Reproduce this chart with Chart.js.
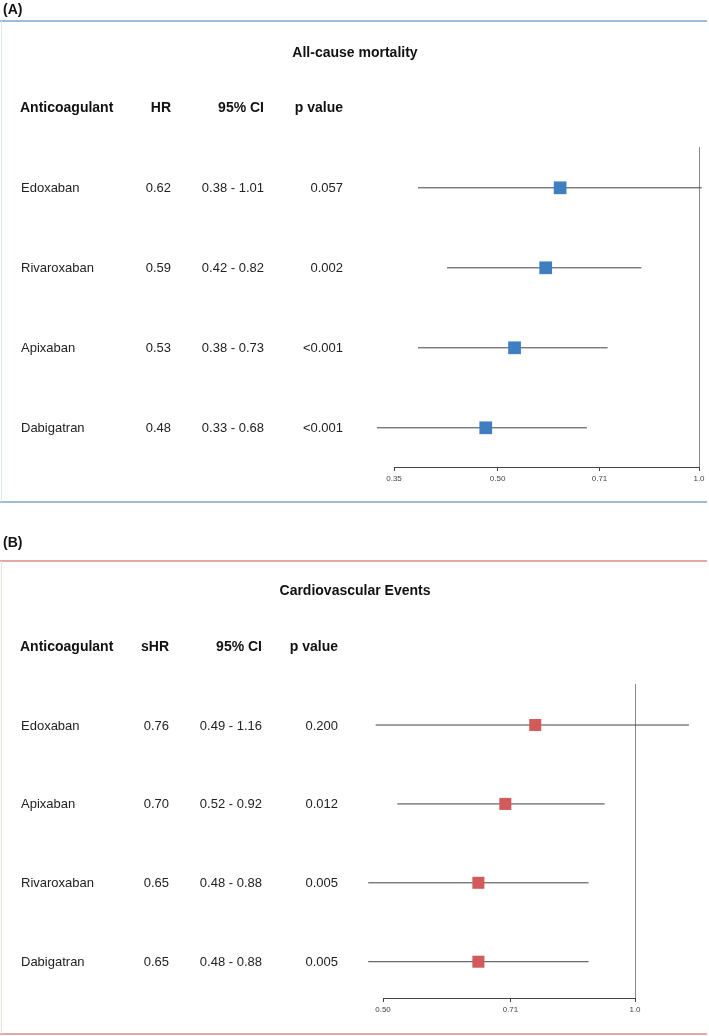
<!DOCTYPE html>
<html>
<head>
<meta charset="utf-8">
<script src="https://cdn.jsdelivr.net/npm/chart.js@4/dist/chart.umd.min.js"></script>
<style>
  html, body { margin: 0; padding: 0; background: #ffffff; }
  canvas { display: block; }
</style>
</head>
<body>
<canvas id="chartA" width="709" height="515"></canvas>
<canvas id="chartB" width="709" height="521"></canvas>
<script>
// ---------- Panel A data ----------
const drugsA = ['Edoxaban', 'Rivaroxaban', 'Apixaban', 'Dabigatran'];
const hrA = [0.62, 0.59, 0.53, 0.48];
const lowA = [0.38, 0.42, 0.38, 0.33];
const highA = [1.01, 0.82, 0.73, 0.68];
const pA = ['0.057', '0.002', '<0.001', '<0.001'];
const tickValsA = [0.35, 0.50, 0.71, 1.0];
const tickLabelsA = ['0.35', '0.50', '0.71', '1.0'];

// ---------- Panel B data ----------
const drugsB = ['Edoxaban', 'Apixaban', 'Rivaroxaban', 'Dabigatran'];
const hrB = [0.76, 0.70, 0.65, 0.65];
const lowB = [0.49, 0.52, 0.48, 0.48];
const highB = [1.16, 0.92, 0.88, 0.88];
const pB = ['0.200', '0.012', '0.005', '0.005'];
const tickValsB = [0.50, 0.71, 1.0];
const tickLabelsB = ['0.50', '0.71', '1.0'];

const FONT = '"Liberation Sans", Arial, Helvetica, sans-serif';

const panelPlugin = {
  id: 'panel',
  beforeDatasetsDraw(chart, args, o) {
    const ctx = chart.ctx, x = chart.scales.x, a = chart.chartArea;
    // reference line at HR = 1
    const px = Math.round(x.getPixelForValue(1)) + 0.5;
    ctx.save();
    ctx.strokeStyle = '#8a8a8a';
    ctx.lineWidth = 1;
    ctx.beginPath();
    ctx.moveTo(px, a.top);
    ctx.lineTo(px, a.bottom);
    ctx.stroke();
    ctx.restore();
  },
  afterDraw(chart, args, o) {
    const ctx = chart.ctx, y = chart.scales.y;
    ctx.save();
    // panel label
    ctx.fillStyle = '#111';
    ctx.font = 'bold 14px ' + FONT;
    ctx.textBaseline = 'middle';
    ctx.textAlign = 'left';
    ctx.fillText(o.label, 3, o.labelY);
    // separator lines
    ctx.strokeStyle = o.lineColor;
    ctx.lineWidth = 1.5;
    ctx.beginPath();
    ctx.moveTo(0, o.topLineY); ctx.lineTo(707, o.topLineY);
    ctx.moveTo(0, o.bottomLineY); ctx.lineTo(707, o.bottomLineY);
    ctx.stroke();
    // faint left frame
    ctx.strokeStyle = o.frameColor;
    ctx.lineWidth = 1;
    ctx.beginPath();
    ctx.moveTo(1.5, o.topLineY); ctx.lineTo(1.5, o.bottomLineY);
    ctx.stroke();
    // title
    ctx.fillStyle = '#111';
    ctx.font = 'bold 14px ' + FONT;
    ctx.textAlign = 'center';
    ctx.fillText(o.title, 355, o.titleY);
    // headers
    ctx.textAlign = 'left';
    ctx.fillText('Anticoagulant', 20, o.headerY);
    ctx.textAlign = 'right';
    ctx.fillText(o.hrHeader, o.colHR, o.headerY);
    ctx.fillText('95% CI', o.colCI, o.headerY);
    ctx.fillText('p value', o.colP, o.headerY);
    // rows
    ctx.font = '13px ' + FONT;
    ctx.fillStyle = '#222';
    o.drugs.forEach((d, i) => {
      const py = y.getPixelForValue(i + 1) + 1;
      ctx.textAlign = 'left';
      ctx.fillText(d, 21, py);
      ctx.textAlign = 'right';
      ctx.fillText(o.hr[i].toFixed(2), o.colHR, py);
      ctx.fillText(o.low[i].toFixed(2) + ' - ' + o.high[i].toFixed(2), o.colCI, py);
      ctx.fillText(o.p[i], o.colP, py);
    });
    ctx.restore();
  }
};

function makeChart(id, cfg) {
  const ciSets = cfg.drugs.map((d, i) => ({
    label: d + ' CI',
    data: [{ x: cfg.low[i], y: i + 1 }, { x: cfg.high[i], y: i + 1 }],
    showLine: true,
    borderColor: '#444444',
    borderWidth: 1,
    pointRadius: 0,
    clip: false,
    order: 2
  }));
  const pointSet = {
    label: 'HR',
    data: cfg.hr.map((v, i) => ({ x: v, y: i + 1 })),
    showLine: false,
    pointStyle: 'rect',
    pointRadius: cfg.radius,
    backgroundColor: cfg.color,
    borderColor: cfg.color,
    borderWidth: 0,
    clip: false,
    order: 1
  };
  return new Chart(document.getElementById(id), {
    type: 'scatter',
    data: { datasets: [pointSet].concat(ciSets) },
    options: {
      responsive: false,
      animation: false,
      events: [],
      layout: { padding: cfg.padding },
      plugins: {
        legend: { display: false },
        tooltip: { enabled: false },
        panel: cfg.panel
      },
      scales: {
        x: {
          type: 'logarithmic',
          position: 'bottom',
          min: cfg.tickVals[0],
          max: cfg.tickVals[cfg.tickVals.length - 1],
          afterBuildTicks: (s) => { s.ticks = cfg.tickVals.map(v => ({ value: v })); },
          afterFit: (s) => { s.height = 20; },
          grid: { drawOnChartArea: false, drawTicks: true, tickLength: 4, color: '#444444' },
          border: { display: true, color: '#444444', width: 1 },
          ticks: {
            autoSkip: false,
            maxRotation: 0,
            padding: 3,
            color: '#444444',
            font: { size: 8, family: FONT },
            callback: (v, i) => cfg.tickLabels[i]
          }
        },
        y: {
          type: 'linear',
          display: false,
          reverse: true,
          min: cfg.yMin,
          max: cfg.yMax
        }
      }
    },
    plugins: [panelPlugin]
  });
}

makeChart('chartA', {
  drugs: drugsA, hr: hrA, low: lowA, high: highA,
  tickVals: tickValsA, tickLabels: tickLabelsA,
  color: '#3f7fbf', radius: 9,
  yMin: 0.49, yMax: 4.49,
  padding: { left: 394, right: 10, top: 147, bottom: 28 },
  panel: {
    label: '(A)', labelY: 10, topLineY: 21, bottomLineY: 502,
    lineColor: '#7fa6c8', frameColor: '#dde7f0',
    title: 'All-cause mortality', titleY: 53, headerY: 108,
    hrHeader: 'HR', colHR: 171, colCI: 264, colP: 343,
    drugs: drugsA, hr: hrA, low: lowA, high: highA, p: pA
  }
});

makeChart('chartB', {
  drugs: drugsB, hr: hrB, low: lowB, high: highB,
  tickVals: tickValsB, tickLabels: tickLabelsB,
  color: '#d25a5a', radius: 8.5,
  yMin: 0.48, yMax: 4.46,
  padding: { left: 383, right: 74, top: 169, bottom: 18 },
  panel: {
    label: '(B)', labelY: 28, topLineY: 46, bottomLineY: 519,
    lineColor: '#e08a8a', frameColor: '#f3dede',
    title: 'Cardiovascular Events', titleY: 76, headerY: 132,
    hrHeader: 'sHR', colHR: 169, colCI: 262, colP: 338,
    drugs: drugsB, hr: hrB, low: lowB, high: highB, p: pB
  }
});
</script>
</body>
</html>
